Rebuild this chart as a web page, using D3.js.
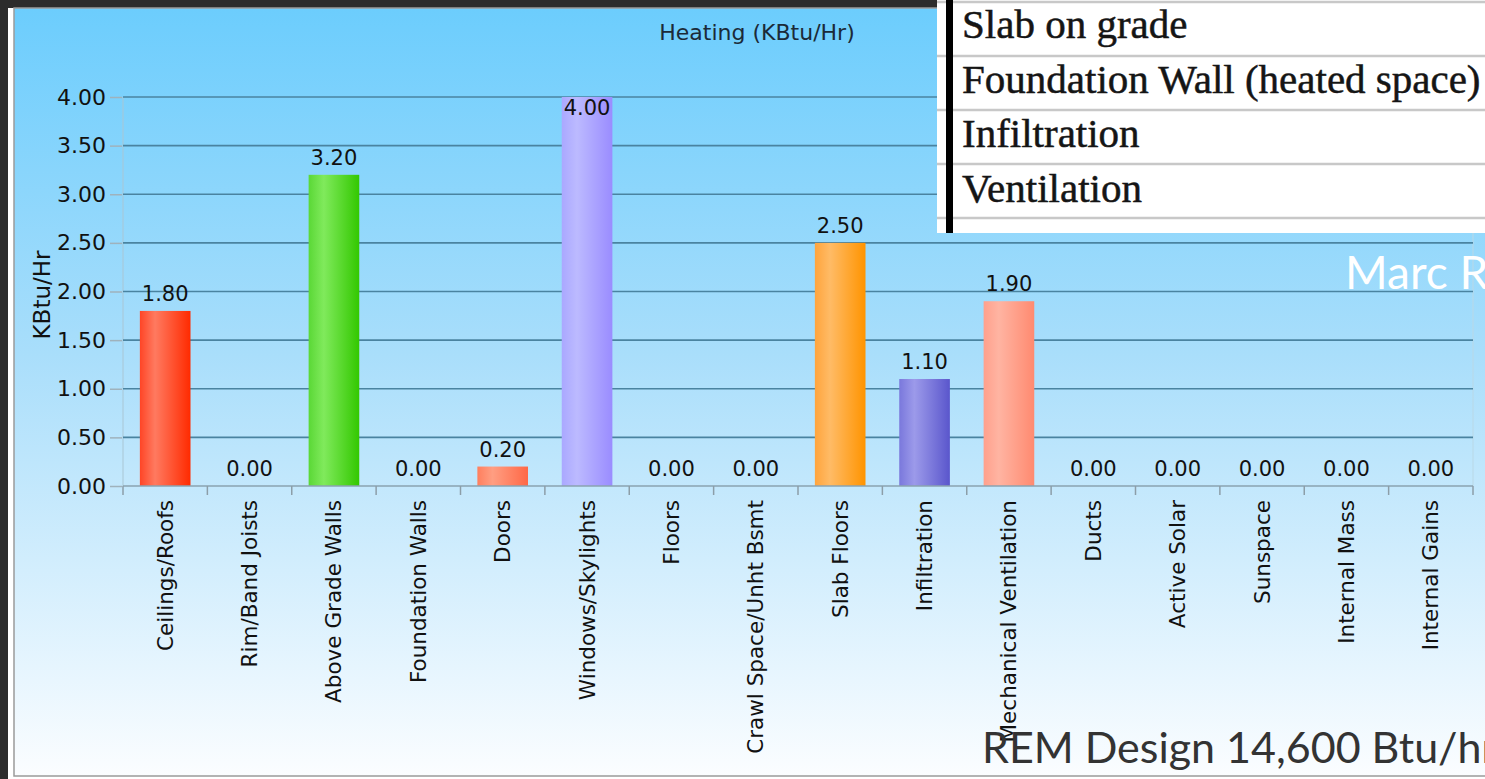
<!DOCTYPE html>
<html>
<head>
<meta charset="utf-8">
<script src="https://cdn.jsdelivr.net/npm/d3@7"></script>
<style>
    body { margin: 0; background: #2c2c2c; }
    svg { display: block; }
</style>
</head>
<body>
<div id="chart"></div>
<script>
// heating loads per component
const categories = ["Ceilings/Roofs", "Rim/Band Joists", "Above Grade Walls", "Foundation Walls", "Doors",
    "Windows/Skylights", "Floors", "Crawl Space/Unht Bsmt", "Slab Floors", "Infiltration",
    "Mechanical Ventilation", "Ducts", "Active Solar", "Sunspace", "Internal Mass", "Internal Gains"]
const heatingValues = [1.80, 0.00, 3.20, 0.00, 0.20, 4.00, 0.00, 0.00, 2.50, 1.10, 1.90, 0.00, 0.00, 0.00, 0.00, 0.00]
const yTicks = [0, 0.5, 1, 1.5, 2, 2.5, 3, 3.5, 4]
const tableRows = ["Slab on grade", "Foundation Wall (heated space)", "Infiltration", "Ventilation"]

// bar colours [left, highlight, right]
const barColors = [
    ["#ff4526", "#ff7a60", "#ff2a00"], ["#cccccc", "#dddddd", "#bbbbbb"], ["#5ad836", "#80ea5c", "#33c800"],
    ["#eeee66", "#ffff99", "#dddd33"], ["#ff7f5e", "#ff9e82", "#ff6846"], ["#aaa8ff", "#bcbaff", "#9a8cff"],
    ["#cccccc", "#dddddd", "#bbbbbb"], ["#cccccc", "#dddddd", "#bbbbbb"], ["#ffa43c", "#ffbb66", "#ff9400"],
    ["#7a78dc", "#9c9aea", "#5a56cc"], ["#ffa08c", "#ffb4a2", "#ff8a70"], ["#cccccc", "#dddddd", "#bbbbbb"],
    ["#cccccc", "#dddddd", "#bbbbbb"], ["#cccccc", "#dddddd", "#bbbbbb"], ["#cccccc", "#dddddd", "#bbbbbb"],
    ["#cccccc", "#dddddd", "#bbbbbb"]
]

class HeatingChart {
    constructor(_parent) {
        this.parent_element = _parent
        this.width = 1485
        this.height = 779
        this.plot = {left: 123, right: 1473, top: 97, bottom: 486}
        this.font = "DejaVu Sans"
        this.initVis()
    }

    initVis() {
        const vis = this

        vis.svg = d3.select(vis.parent_element).append("svg")
            .attr("width", vis.width)
            .attr("height", vis.height)

        const defs = vis.svg.append("defs")
        const bg = defs.append("linearGradient").attr("id", "bg")
            .attr("x1", 0).attr("y1", 0).attr("x2", 0).attr("y2", 1)
        bg.append("stop").attr("offset", "0%").attr("stop-color", "#6ccdfd")
        bg.append("stop").attr("offset", "45%").attr("stop-color", "#a9defb")
        bg.append("stop").attr("offset", "100%").attr("stop-color", "#fbfdff")

        barColors.forEach((c, i) => {
            const g = defs.append("linearGradient").attr("id", "bar" + i)
                .attr("x1", 0).attr("y1", 0).attr("x2", 1).attr("y2", 0)
            g.append("stop").attr("offset", "0%").attr("stop-color", c[0])
            g.append("stop").attr("offset", "30%").attr("stop-color", c[1])
            g.append("stop").attr("offset", "100%").attr("stop-color", c[2])
        })

        // frame + chart background
        vis.svg.append("rect").attr("x", 8).attr("y", 8)
            .attr("width", vis.width - 8).attr("height", vis.height - 8).attr("fill", "#ffffff")
        vis.svg.append("rect").attr("x", 14).attr("y", 8)
            .attr("width", vis.width - 12).attr("height", 768)
            .attr("fill", "url(#bg)").attr("stroke", "#9a9a9a").attr("stroke-width", 1.5)

        vis.xScale = d3.scaleBand()
            .domain(categories)
            .range([vis.plot.left, vis.plot.right])
            .paddingInner(0.4)
            .paddingOuter(0.2)
        vis.yScale = d3.scaleLinear()
            .domain([0, 4])
            .range([vis.plot.bottom, vis.plot.top])

        vis.renderVis()
    }

    renderVis() {
        const vis = this
        const p = vis.plot

        // plot borders
        vis.svg.append("line").attr("x1", p.left).attr("x2", p.left).attr("y1", p.top).attr("y2", p.bottom)
            .attr("stroke", "#a9c6d4").attr("stroke-width", 1)
        vis.svg.append("line").attr("x1", p.right).attr("x2", p.right).attr("y1", p.top).attr("y2", p.bottom)
            .attr("stroke", "#b9d8e6").attr("stroke-width", 1)

        // gridlines
        vis.svg.append("g").selectAll("line")
            .data(yTicks.filter(d => d > 0))
            .join("line")
            .attr("x1", p.left).attr("x2", p.right)
            .attr("y1", d => vis.yScale(d)).attr("y2", d => vis.yScale(d))
            .attr("stroke", "#4a83a0").attr("stroke-width", 1.6)

        // y axis
        const yAxis = vis.svg.append("g")
            .attr("transform", `translate(${p.left - 1},0)`)
            .call(d3.axisLeft(vis.yScale).tickValues(yTicks).tickFormat(d3.format(".2f")).tickSize(12).tickPadding(4))
        yAxis.select(".domain").remove()
        yAxis.selectAll(".tick line").attr("stroke", "#9fb2bc").attr("stroke-width", 1.5)
        yAxis.selectAll(".tick text")
            .attr("fill", "#111").style("font-family", vis.font).style("font-size", "22px")

        vis.svg.append("text")
            .attr("transform", `translate(42,295) rotate(-90)`)
            .attr("text-anchor", "middle")
            .attr("dy", "0.35em")
            .attr("fill", "#111")
            .style("font-family", vis.font).style("font-size", "23px")
            .text("KBtu/Hr")

        // bars
        vis.svg.append("g").selectAll("rect")
            .data(heatingValues)
            .join("rect")
            .attr("x", (d, i) => vis.xScale(categories[i]))
            .attr("width", vis.xScale.bandwidth())
            .attr("y", d => vis.yScale(d))
            .attr("height", d => vis.yScale(0) - vis.yScale(d))
            .attr("fill", (d, i) => `url(#bar${i})`)

        // x axis
        vis.svg.append("line").attr("x1", p.left).attr("x2", p.right).attr("y1", p.bottom).attr("y2", p.bottom)
            .attr("stroke", "#8aa3b0").attr("stroke-width", 1.5)
        const step = vis.xScale.step()
        vis.svg.append("g").selectAll("line")
            .data(d3.range(categories.length + 1))
            .join("line")
            .attr("x1", i => p.left + i * step).attr("x2", i => p.left + i * step)
            .attr("y1", p.bottom).attr("y2", p.bottom + 9)
            .attr("stroke", "#8c9ea8").attr("stroke-width", 1.5)

        vis.svg.append("g").selectAll("text")
            .data(categories)
            .join("text")
            .attr("transform", d => `translate(${vis.xScale(d) + vis.xScale.bandwidth() / 2},500) rotate(-90)`)
            .attr("text-anchor", "end")
            .attr("dy", "0.35em")
            .attr("fill", "#111")
            .style("font-family", vis.font).style("font-size", "21.5px")
            .text(d => d)

        // value labels, kept inside the plot area
        vis.svg.append("g").selectAll("text")
            .data(heatingValues)
            .join("text")
            .attr("x", (d, i) => vis.xScale(categories[i]) + vis.xScale.bandwidth() / 2)
            .attr("y", d => Math.max(vis.yScale(d) - 10, p.top + 18))
            .attr("text-anchor", "middle")
            .attr("fill", "#111")
            .style("font-family", vis.font).style("font-size", "21px")
            .text(d3.format(".2f"))

        vis.svg.append("text")
            .attr("x", 757).attr("y", 40)
            .attr("text-anchor", "middle")
            .attr("fill", "#1b2a38")
            .style("font-family", vis.font).style("font-size", "22px")
            .text("Heating (KBtu/Hr)")

        // pasted table fragment on top right
        const tbl = vis.svg.append("g")
        tbl.append("rect").attr("x", 937).attr("y", 0).attr("width", vis.width - 937).attr("height", 233)
            .attr("fill", "#ffffff")
        tbl.selectAll("line")
            .data(d3.range(tableRows.length + 1))
            .join("line")
            .attr("x1", 937).attr("x2", vis.width)
            .attr("y1", i => 2 + i * 54).attr("y2", i => 2 + i * 54)
            .attr("stroke", "#c8c8c8").attr("stroke-width", 2.5)
        tbl.append("rect").attr("x", 946).attr("y", 0).attr("width", 7).attr("height", 233).attr("fill", "#000")
        tbl.selectAll("text")
            .data(tableRows)
            .join("text")
            .attr("x", 962)
            .attr("y", (d, i) => 38 + i * 54.5)
            .attr("fill", "#151515")
            .attr("stroke", "#151515").attr("stroke-width", 0.5)
            .style("font-family", "Liberation Serif").style("font-size", "41px")
            .text(d => d)

        // slide text
        vis.svg.append("text")
            .attr("x", 1345).attr("y", 289)
            .attr("fill", "#ffffff")
            .style("font-family", "Lato").style("font-size", "46px")
            .text("Marc Rosenbaum")
        vis.svg.append("text")
            .attr("x", 982).attr("y", 763)
            .attr("fill", "#333333")
            .style("font-family", "Lato").style("font-size", "43px")
            .text("REM Design 14,600 Btu/hr")
    }
}

new HeatingChart("#chart")
</script>
</body>
</html>
